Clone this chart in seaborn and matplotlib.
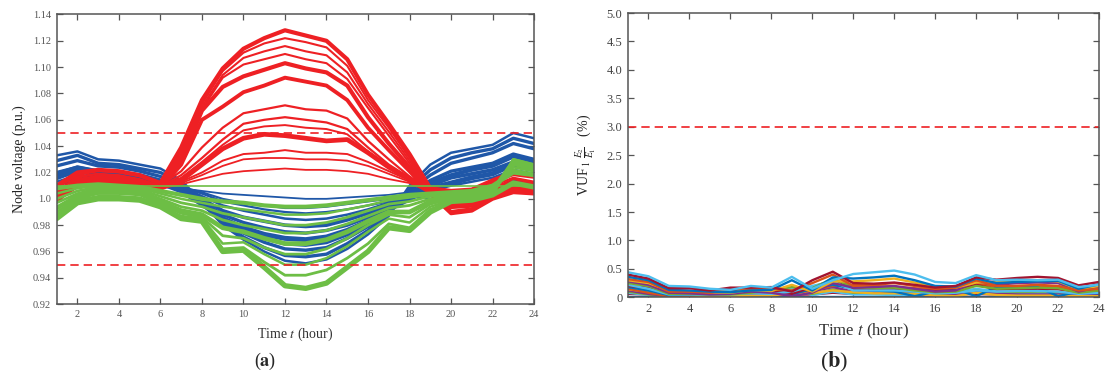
import matplotlib
matplotlib.use("Agg")
import matplotlib.pyplot as plt
import numpy as np
import pandas as pd
import seaborn as sns

# %% data
hours = list(range(1, 25))

# node voltage profiles (p.u.), one list per node line
red_lines = [
    [1.010, 1.020, 1.022, 1.021, 1.018, 1.012, 1.039, 1.075, 1.099, 1.114, 1.122, 1.128, 1.124, 1.120, 1.106, 1.079, 1.057, 1.034, 1.008, 1.006, 1.007, 1.014, 1.020, 1.018],
    [1.008, 1.018, 1.021, 1.020, 1.017, 1.011, 1.036, 1.072, 1.097, 1.111, 1.118, 1.122, 1.119, 1.115, 1.101, 1.075, 1.054, 1.031, 1.007, 1.004, 1.005, 1.012, 1.018, 1.016],
    [1.006, 1.016, 1.019, 1.018, 1.015, 1.010, 1.034, 1.070, 1.094, 1.107, 1.112, 1.116, 1.112, 1.109, 1.096, 1.072, 1.051, 1.029, 1.006, 0.999, 1.000, 1.008, 1.015, 1.012],
    [1.004, 1.014, 1.018, 1.016, 1.013, 1.010, 1.032, 1.068, 1.092, 1.102, 1.106, 1.110, 1.106, 1.103, 1.091, 1.069, 1.048, 1.027, 1.005, 0.995, 0.997, 1.006, 1.012, 1.010],
    [1.002, 1.012, 1.016, 1.014, 1.011, 1.009, 1.029, 1.067, 1.085, 1.093, 1.098, 1.103, 1.099, 1.096, 1.086, 1.062, 1.042, 1.024, 1.004, 0.990, 0.992, 1.002, 1.008, 1.007],
    [1.000, 1.010, 1.014, 1.012, 1.009, 1.008, 1.026, 1.060, 1.070, 1.081, 1.086, 1.092, 1.089, 1.086, 1.075, 1.054, 1.037, 1.021, 1.004, 0.989, 0.991, 1.000, 1.005, 1.004],
    [1.005, 1.017, 1.019, 1.017, 1.014, 1.010, 1.021, 1.039, 1.054, 1.065, 1.068, 1.071, 1.068, 1.067, 1.061, 1.044, 1.030, 1.017, 1.006, 1.002, 1.003, 1.010, 1.016, 1.013],
    [1.003, 1.015, 1.017, 1.015, 1.012, 1.009, 1.018, 1.031, 1.045, 1.057, 1.060, 1.062, 1.060, 1.058, 1.053, 1.039, 1.026, 1.016, 1.005, 0.998, 1.000, 1.007, 1.013, 1.011],
    [1.001, 1.013, 1.015, 1.013, 1.011, 1.009, 1.016, 1.028, 1.041, 1.052, 1.055, 1.056, 1.054, 1.053, 1.049, 1.036, 1.024, 1.015, 1.005, 0.996, 0.998, 1.005, 1.011, 1.009],
    [0.999, 1.011, 1.013, 1.011, 1.009, 1.008, 1.014, 1.026, 1.038, 1.046, 1.049, 1.048, 1.046, 1.044, 1.045, 1.035, 1.024, 1.015, 1.005, 0.994, 0.995, 1.003, 1.008, 1.006],
    [1.003, 1.014, 1.016, 1.012, 1.010, 1.009, 1.013, 1.020, 1.029, 1.034, 1.035, 1.037, 1.035, 1.035, 1.034, 1.028, 1.021, 1.014, 1.005, 1.001, 1.002, 1.008, 1.013, 1.010],
    [1.001, 1.012, 1.014, 1.010, 1.008, 1.008, 1.012, 1.018, 1.025, 1.030, 1.031, 1.031, 1.030, 1.030, 1.029, 1.025, 1.019, 1.013, 1.005, 0.999, 1.000, 1.006, 1.010, 1.008],
    [0.998, 1.009, 1.011, 1.008, 1.006, 1.008, 1.011, 1.015, 1.019, 1.021, 1.022, 1.023, 1.022, 1.022, 1.021, 1.019, 1.015, 1.012, 1.005, 0.997, 0.998, 1.004, 1.006, 1.005],
]
red_widths = [3.0, 1.5, 1.5, 1.5, 3.0, 2.8, 1.6, 1.6, 1.4, 3.4, 1.4, 1.3, 1.3]

blue_lines = [
    [1.010, 1.014, 1.013, 1.012, 1.011, 1.009, 1.008, 1.006, 1.004, 1.003, 1.002, 1.001, 1.000, 1.000, 1.001, 1.002, 1.003, 1.005, 1.004, 1.003, 1.003, 1.004, 1.007, 1.006],
    [1.011, 1.016, 1.015, 1.014, 1.012, 1.010, 1.009, 1.005, 1.000, 0.997, 0.995, 0.993, 0.993, 0.994, 0.996, 0.998, 1.000, 1.002, 1.000, 0.999, 1.001, 1.003, 1.010, 1.008],
    [1.013, 1.018, 1.016, 1.015, 1.013, 1.011, 1.009, 1.004, 0.998, 0.995, 0.992, 0.990, 0.989, 0.990, 0.992, 0.995, 0.998, 1.001, 1.002, 1.004, 1.006, 1.008, 1.014, 1.012],
    [1.016, 1.020, 1.018, 1.017, 1.015, 1.012, 1.009, 1.002, 0.995, 0.991, 0.988, 0.985, 0.984, 0.985, 0.988, 0.992, 0.997, 1.002, 1.006, 1.010, 1.013, 1.016, 1.022, 1.019],
    [1.018, 1.022, 1.020, 1.019, 1.017, 1.013, 1.009, 1.000, 0.991, 0.986, 0.983, 0.980, 0.979, 0.980, 0.984, 0.989, 0.995, 1.003, 1.010, 1.016, 1.019, 1.022, 1.028, 1.025],
    [1.020, 1.024, 1.021, 1.020, 1.018, 1.014, 1.008, 0.998, 0.988, 0.982, 0.978, 0.975, 0.974, 0.976, 0.980, 0.986, 0.994, 1.004, 1.014, 1.021, 1.024, 1.027, 1.034, 1.030],
    [1.016, 1.022, 1.019, 1.018, 1.016, 1.012, 1.006, 0.996, 0.985, 0.978, 0.973, 0.970, 0.969, 0.971, 0.976, 0.983, 0.992, 1.000, 1.008, 1.012, 1.016, 1.019, 1.026, 1.023],
    [1.019, 1.024, 1.021, 1.020, 1.018, 1.014, 1.008, 0.997, 0.985, 0.976, 0.970, 0.966, 0.965, 0.967, 0.973, 0.981, 0.991, 1.003, 1.012, 1.018, 1.022, 1.025, 1.032, 1.028],
    [1.025, 1.029, 1.025, 1.024, 1.021, 1.017, 1.010, 0.997, 0.983, 0.974, 0.967, 0.962, 0.961, 0.963, 0.970, 0.979, 0.990, 1.006, 1.018, 1.027, 1.031, 1.035, 1.042, 1.038],
    [1.029, 1.033, 1.027, 1.026, 1.023, 1.020, 1.012, 0.997, 0.981, 0.971, 0.963, 0.957, 0.956, 0.958, 0.966, 0.976, 0.989, 1.008, 1.022, 1.031, 1.035, 1.038, 1.046, 1.042],
    [1.033, 1.036, 1.030, 1.029, 1.026, 1.023, 1.014, 0.998, 0.980, 0.969, 0.960, 0.953, 0.951, 0.954, 0.962, 0.973, 0.987, 1.010, 1.026, 1.035, 1.038, 1.041, 1.050, 1.046],
]
blue_widths = [1.3, 1.5, 1.6, 1.8, 2.6, 2.4, 3.6, 2.8, 2.4, 2.4, 1.8]

green_lines = [
    [1.0095, 1.0095, 1.0095, 1.0095, 1.0095, 1.0095, 1.0095, 1.0095, 1.0095, 1.0095, 1.0095, 1.0095, 1.0095, 1.0095, 1.0095, 1.0095, 1.0095, 1.0095, 1.0095, 1.0095, 1.0095, 1.0095, 1.0095, 1.0095],
    [1.008, 1.010, 1.011, 1.010, 1.009, 1.006, 1.003, 1.000, 0.998, 0.997, 0.995, 0.994, 0.994, 0.995, 0.997, 0.999, 1.001, 1.003, 1.004, 1.005, 1.006, 1.010, 1.020, 1.018],
    [1.004, 1.008, 1.010, 1.009, 1.008, 1.004, 1.000, 0.997, 0.994, 0.992, 0.990, 0.988, 0.988, 0.989, 0.992, 0.995, 0.999, 1.001, 1.003, 1.004, 1.005, 1.009, 1.022, 1.019],
    [1.000, 1.006, 1.009, 1.008, 1.007, 1.002, 0.997, 0.994, 0.989, 0.986, 0.983, 0.980, 0.980, 0.982, 0.986, 0.991, 0.996, 0.998, 1.002, 1.003, 1.004, 1.008, 1.024, 1.021],
    [0.997, 1.004, 1.008, 1.007, 1.006, 1.000, 0.994, 0.991, 0.984, 0.980, 0.977, 0.974, 0.974, 0.976, 0.981, 0.987, 0.993, 0.995, 1.000, 1.002, 1.003, 1.007, 1.026, 1.022],
    [0.993, 1.002, 1.006, 1.006, 1.005, 0.998, 0.991, 0.988, 0.978, 0.975, 0.970, 0.966, 0.966, 0.969, 0.975, 0.983, 0.990, 0.990, 0.998, 1.001, 1.002, 1.006, 1.028, 1.024],
    [0.990, 1.000, 1.004, 1.004, 1.003, 0.996, 0.989, 0.986, 0.972, 0.970, 0.963, 0.958, 0.958, 0.962, 0.970, 0.980, 0.988, 0.986, 0.996, 1.000, 1.001, 1.005, 1.029, 1.025],
    [0.988, 0.999, 1.002, 1.002, 1.001, 0.995, 0.987, 0.985, 0.966, 0.967, 0.958, 0.950, 0.950, 0.955, 0.964, 0.975, 0.985, 0.982, 0.994, 0.999, 1.000, 1.004, 1.030, 1.026],
    [0.986, 0.998, 1.001, 1.001, 1.000, 0.995, 0.986, 0.984, 0.962, 0.963, 0.952, 0.942, 0.942, 0.946, 0.955, 0.966, 0.981, 0.978, 0.992, 0.998, 0.999, 1.003, 1.030, 1.026],
    [0.985, 0.997, 1.000, 1.000, 0.999, 0.994, 0.985, 0.983, 0.960, 0.961, 0.948, 0.934, 0.932, 0.936, 0.948, 0.960, 0.978, 0.976, 0.990, 0.998, 0.999, 1.003, 1.012, 1.009],
]
green_widths = [1.2, 3.0, 1.8, 2.0, 2.0, 3.4, 2.0, 1.8, 2.0, 3.8]

v_limits = [0.95, 1.05]

# voltage unbalance factor (%), one list per node
vuf_lines = [
    [0.44, 0.37, 0.20, 0.19, 0.15, 0.13, 0.20, 0.17, 0.36, 0.15, 0.30, 0.41, 0.44, 0.47, 0.40, 0.27, 0.25, 0.39, 0.30, 0.31, 0.30, 0.31, 0.18, 0.22],
    [0.40, 0.33, 0.16, 0.16, 0.12, 0.17, 0.17, 0.18, 0.10, 0.30, 0.45, 0.25, 0.24, 0.26, 0.22, 0.17, 0.20, 0.35, 0.31, 0.34, 0.36, 0.34, 0.21, 0.27],
    [0.36, 0.30, 0.13, 0.12, 0.10, 0.09, 0.12, 0.13, 0.30, 0.12, 0.35, 0.33, 0.35, 0.38, 0.30, 0.20, 0.19, 0.33, 0.25, 0.27, 0.28, 0.29, 0.15, 0.23],
    [0.32, 0.27, 0.10, 0.10, 0.08, 0.15, 0.15, 0.15, 0.12, 0.25, 0.40, 0.20, 0.22, 0.25, 0.20, 0.15, 0.17, 0.30, 0.20, 0.20, 0.22, 0.20, 0.12, 0.15],
    [0.30, 0.25, 0.12, 0.11, 0.09, 0.08, 0.13, 0.11, 0.22, 0.10, 0.28, 0.28, 0.30, 0.33, 0.26, 0.18, 0.17, 0.26, 0.27, 0.29, 0.30, 0.28, 0.14, 0.20],
    [0.28, 0.22, 0.08, 0.07, 0.05, 0.06, 0.10, 0.08, 0.02, 0.08, 0.25, 0.17, 0.18, 0.20, 0.15, 0.10, 0.12, 0.28, 0.22, 0.25, 0.26, 0.25, 0.10, 0.18],
    [0.25, 0.20, 0.06, 0.06, 0.05, 0.05, 0.08, 0.12, 0.18, 0.16, 0.33, 0.18, 0.16, 0.17, 0.12, 0.09, 0.10, 0.20, 0.15, 0.16, 0.17, 0.16, 0.08, 0.12],
    [0.22, 0.15, 0.05, 0.05, 0.04, 0.05, 0.07, 0.06, 0.10, 0.20, 0.28, 0.12, 0.12, 0.12, 0.10, 0.07, 0.08, 0.12, 0.10, 0.11, 0.11, 0.10, 0.06, 0.08],
    [0.20, 0.17, 0.07, 0.08, 0.07, 0.10, 0.09, 0.11, 0.06, 0.18, 0.30, 0.14, 0.15, 0.15, 0.12, 0.12, 0.12, 0.22, 0.14, 0.14, 0.15, 0.14, 0.09, 0.14],
    [0.18, 0.12, 0.04, 0.05, 0.06, 0.12, 0.12, 0.10, 0.05, 0.15, 0.22, 0.15, 0.12, 0.10, 0.02, 0.10, 0.14, 0.02, 0.18, 0.17, 0.18, 0.02, 0.10, 0.07],
    [0.15, 0.08, 0.02, 0.03, 0.05, 0.10, 0.11, 0.14, 0.08, 0.12, 0.20, 0.22, 0.20, 0.18, 0.16, 0.13, 0.15, 0.25, 0.18, 0.20, 0.20, 0.19, 0.12, 0.10],
    [0.14, 0.10, 0.03, 0.02, 0.01, 0.02, 0.03, 0.03, 0.07, 0.08, 0.12, 0.09, 0.07, 0.07, 0.06, 0.03, 0.02, 0.08, 0.04, 0.03, 0.03, 0.03, 0.02, 0.02],
    [0.12, 0.06, 0.02, 0.02, 0.02, 0.04, 0.05, 0.07, 0.03, 0.10, 0.18, 0.10, 0.09, 0.08, 0.06, 0.02, 0.04, 0.10, 0.06, 0.05, 0.05, 0.05, 0.04, 0.05],
    [0.10, 0.05, 0.01, 0.01, 0.02, 0.03, 0.04, 0.05, 0.12, 0.06, 0.14, 0.08, 0.09, 0.10, 0.08, 0.05, 0.06, 0.12, 0.08, 0.09, 0.10, 0.09, 0.05, 0.06],
    [0.08, 0.04, 0.02, 0.03, 0.04, 0.06, 0.06, 0.09, 0.15, 0.04, 0.10, 0.05, 0.05, 0.04, 0.04, 0.06, 0.09, 0.15, 0.10, 0.08, 0.07, 0.07, 0.06, 0.03],
    [0.06, 0.05, 0.04, 0.04, 0.03, 0.03, 0.04, 0.04, 0.05, 0.05, 0.08, 0.06, 0.06, 0.06, 0.05, 0.04, 0.05, 0.06, 0.05, 0.05, 0.05, 0.05, 0.04, 0.04],
    [0.00, 0.00, 0.00, 0.00, 0.00, 0.00, 0.00, 0.00, 0.00, 0.00, 0.00, 0.00, 0.00, 0.00, 0.00, 0.00, 0.00, 0.00, 0.00, 0.00, 0.00, 0.00, 0.00, 0.00],
]
vuf_limit = 3.0

v_ticks = [0.92, 0.94, 0.96, 0.98, 1.0, 1.02, 1.04, 1.06, 1.08, 1.10, 1.12, 1.14]
v_ticklabels = ["0.92", "0.94", "0.96", "0.98", "1.0", "1.02", "1.04", "1.06", "1.08", "1.10", "1.12", "1.14"]
vuf_ticks = [0, 0.5, 1.0, 1.5, 2.0, 2.5, 3.0, 3.5, 4.0, 4.5, 5.0]
vuf_ticklabels = ["0", "0.5", "1.0", "1.5", "2.0", "2.5", "3.0", "3.5", "4.0", "4.5", "5.0"]
hour_ticks = list(range(2, 25, 2))

# %% style
sns.set_theme(style="ticks")
plt.rcParams["font.family"] = ["Liberation Serif", "DejaVu Serif"]
plt.rcParams["mathtext.fontset"] = "stix"

RED = "#EE2024"
BLUE = "#1F57A8"
GREEN = "#6DBE45"
# matlab default order, started at the light blue so the top line is cyan
matlab = ["#4DBEEE", "#A2142F", "#0072BD", "#D95319", "#EDB120", "#7E2F8E", "#77AC30"]


def long_df(lines):
    rows = []
    for i, vals in enumerate(lines):
        for h, v in zip(hours, vals):
            rows.append((i, h, v))
    return pd.DataFrame(rows, columns=["line", "hour", "value"])


def style_axes(ax, fs, color):
    for s in ax.spines.values():
        s.set_color("#555555")
        s.set_linewidth(1.1)
    ax.tick_params(direction="in", top=True, right=True, length=4, width=0.9,
                   color="#555555", labelsize=fs, labelcolor=color, pad=4)


fig = plt.figure(figsize=(11.06, 3.76), dpi=100)
ax1 = fig.add_axes([0.0512, 0.191, 0.4317, 0.7705])
ax2 = fig.add_axes([0.5678, 0.2093, 0.4259, 0.7561])

# %% (a) node voltage
for lines, widths, col in [(blue_lines, blue_widths, BLUE),
                           (red_lines, red_widths, RED),
                           (green_lines, green_widths, GREEN)]:
    df = long_df(lines)
    for i, w in enumerate(widths):
        sns.lineplot(data=df[df["line"] == i], x="hour", y="value", color=col,
                     lw=w, estimator=None, ax=ax1, legend=False)
for lim in v_limits:
    ax1.axhline(lim, color=RED, ls=(0, (5, 3)), lw=1.2)
ax1.set_xlim(1, 24)
ax1.set_ylim(0.92, 1.14)
ax1.set_xticks(hour_ticks)
ax1.set_yticks(v_ticks)
ax1.set_yticklabels(v_ticklabels)
style_axes(ax1, 7.5, "#555555")
ax1.set_xlabel("Time $t$ (hour)", fontsize=10, color="#333333", labelpad=5)
ax1.set_ylabel("Node voltage (p.u.)", fontsize=10, color="#222222", labelpad=5)

# %% (b) VUF
dfv = long_df(vuf_lines)
for i in range(len(vuf_lines) - 1, -1, -1):
    sns.lineplot(data=dfv[dfv["line"] == i], x="hour", y="value",
                 color=matlab[i % len(matlab)], lw=1.7, estimator=None, ax=ax2, legend=False)
ax2.axhline(vuf_limit, color=RED, ls=(0, (5, 3)), lw=1.2)
ax2.set_xlim(1, 24)
ax2.set_ylim(0, 5.0)
ax2.set_xticks(hour_ticks)
ax2.set_yticks(vuf_ticks)
ax2.set_yticklabels(vuf_ticklabels)
style_axes(ax2, 9, "#444444")
ax2.set_xlabel("Time $t$ (hour)", fontsize=12, color="#333333", labelpad=5)
ax2.set_ylabel(r"VUF$_{\,1}$ $\frac{E_2}{E_1}$   (%)", fontsize=10, color="#222222", labelpad=6)

fig.text(0.2396, 0.038, r"($\mathbf{a}$)", ha="center", va="center", fontsize=13)
fig.text(0.754, 0.038, r"($\mathbf{b}$)", ha="center", va="center", fontsize=16)

fig.savefig("out.png", dpi=100)
